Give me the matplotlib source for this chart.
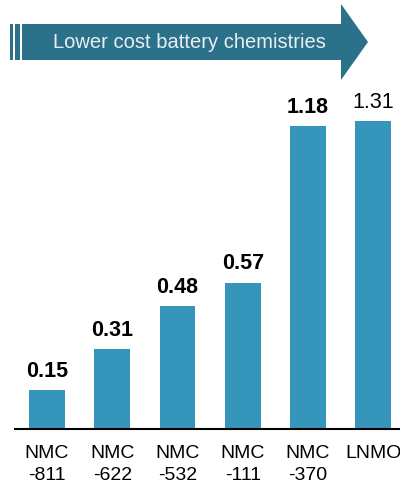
import numpy as np
import matplotlib
matplotlib.use('Agg')
import matplotlib.pyplot as plt
from matplotlib.patches import Polygon, Rectangle

plt.rcParams['font.family'] = ['Liberation Sans', 'DejaVu Sans']

# data
categories = ['NMC\n-811', 'NMC\n-622', 'NMC\n-532', 'NMC\n-111', 'NMC\n-370', 'LNMO']
values = [0.15, 0.31, 0.48, 0.57, 1.18, 1.31]
# drawn bar heights (LNMO bar is drawn shorter than its value)
bar_heights = [0.15, 0.31, 0.48, 0.57, 1.18, 1.20]
bold_label = [True, True, True, True, True, False]
banner_text = 'Lower cost battery chemistries'

bar_color = '#3595bb'
arrow_color = '#2b7189'

W, H = 400, 485
fig = plt.figure(figsize=(W / 100, H / 100), dpi=100)

def fx(px):
    return px / W

def fy(py):
    return 1 - py / H

ax = fig.add_axes([fx(15), fy(430), fx(400) - fx(15), fy(90) - fy(430)])
x = np.arange(len(categories))
ax.bar(x, bar_heights, width=0.55, color=bar_color)
for xi, h, v, b in zip(x, bar_heights, values, bold_label):
    ax.annotate('%.2f' % v, (xi, h), xytext=(0, 6.5), textcoords='offset points',
                ha='center', va='bottom', fontsize=15.5,
                fontweight='bold' if b else 'normal', color='black')

ax.set_xlim(-0.49, 5.41)
ax.set_ylim(0, 1.323)
ax.set_xticks(x)
ax.set_xticklabels(categories, fontsize=14, linespacing=1.35)
ax.tick_params(axis='x', length=0, pad=11)
ax.set_yticks([])
for s in ['top', 'left', 'right']:
    ax.spines[s].set_visible(False)
ax.spines['bottom'].set_linewidth(1.5)

# banner arrow
pts = [(22, 25), (341, 25), (341, 5), (368, 43), (341, 81), (341, 61), (22, 61)]
fig.patches.append(Polygon([(fx(a), fy(b)) for a, b in pts], closed=True,
                           transform=fig.transFigure, facecolor=arrow_color,
                           edgecolor='none'))
for x0, w in [(10, 3), (15, 5)]:
    fig.patches.append(Rectangle((fx(x0), fy(61)), fx(w), fy(25) - fy(61),
                                 transform=fig.transFigure, facecolor=arrow_color,
                                 edgecolor='none'))
fig.text(fx(189), fy(43), banner_text, ha='center', va='center',
         fontsize=14.5, color='#e8eff2')

fig.savefig('out.png', dpi=100)
